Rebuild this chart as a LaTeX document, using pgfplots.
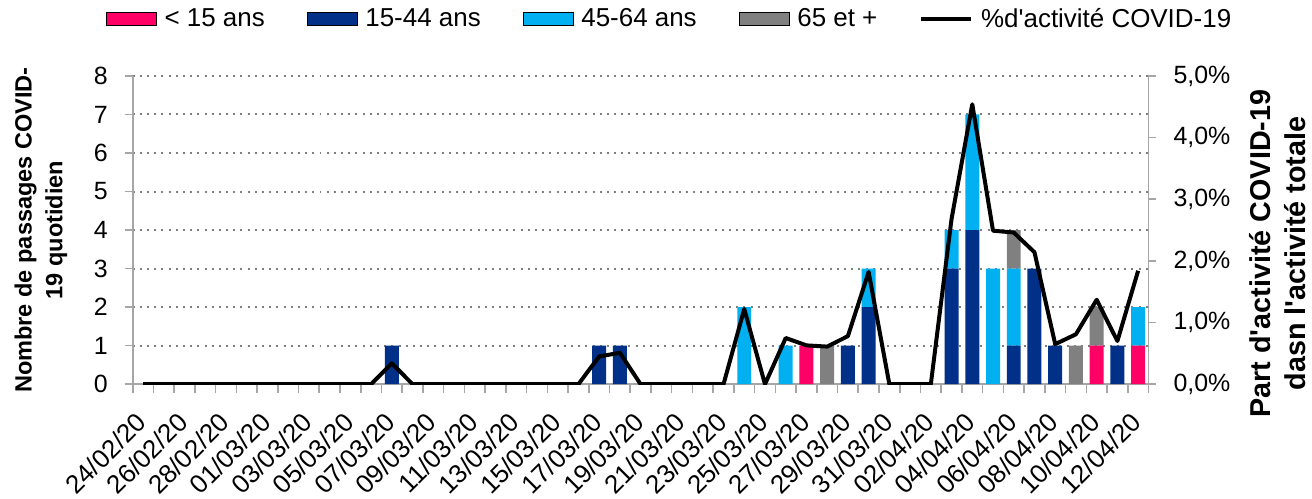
\documentclass[border=0pt]{standalone}
\usepackage{fontspec}
\setmainfont{Liberation Sans}
\usepackage{pgfplots}
\usepackage{pgfplotstable}
\pgfplotsset{compat=1.18}

\definecolor{pk}{HTML}{FF0066}
\definecolor{nv}{HTML}{003087}
\definecolor{cy}{HTML}{00B0F0}
\definecolor{gr}{HTML}{808080}
\definecolor{axg}{HTML}{A6A6A6}

% i = jour depuis le 24/02/20 ; passages par age ; pct = part d'activite (%)
\pgfplotstableread{
i pk nv cy gr pct
0 0 0 0 0 0
1 0 0 0 0 0
2 0 0 0 0 0
3 0 0 0 0 0
4 0 0 0 0 0
5 0 0 0 0 0
6 0 0 0 0 0
7 0 0 0 0 0
8 0 0 0 0 0
9 0 0 0 0 0
10 0 0 0 0 0
11 0 0 0 0 0
12 0 1 0 0 0.34
13 0 0 0 0 0
14 0 0 0 0 0
15 0 0 0 0 0
16 0 0 0 0 0
17 0 0 0 0 0
18 0 0 0 0 0
19 0 0 0 0 0
20 0 0 0 0 0
21 0 0 0 0 0
22 0 1 0 0 0.45
23 0 1 0 0 0.51
24 0 0 0 0 0
25 0 0 0 0 0
26 0 0 0 0 0
27 0 0 0 0 0
28 0 0 0 0 0
29 0 0 2 0 1.22
30 0 0 0 0 0
31 0 0 1 0 0.75
32 1 0 0 0 0.63
33 0 0 0 1 0.61
34 0 1 0 0 0.78
35 0 2 1 0 1.82
36 0 0 0 0 0
37 0 0 0 0 0
38 0 0 0 0 0
39 0 3 1 0 2.68
40 0 4 3 0 4.54
41 0 0 3 0 2.49
42 0 1 2 1 2.46
43 0 3 0 0 2.14
44 0 1 0 0 0.65
45 0 0 0 1 0.81
46 1 0 0 1 1.37
47 0 1 0 0 0.70
48 1 0 1 0 1.84
}\passages

\pgfplotsset{
  barleg/.style={legend image code/.code={\fill[##1] (0pt,-3.25pt) rectangle (25pt,3.25pt);}},
  lineleg/.style={legend image code/.code={\draw[##1] (0pt,0pt) -- (25pt,0pt);}},
}

\begin{document}
\begin{tikzpicture}
\begin{axis}[
  name=ax,
  scale only axis, width=509pt, height=154.5pt,
  xmin=-0.5, xmax=48.5, ymin=0, ymax=8,
  ybar stacked, bar width=7pt,
  axis x line*=bottom, axis y line*=left,
  axis line style={axg, line width=0.8pt},
  tick align=outside,
  xtick={0,2,...,48},
  xticklabels={24/02/20,26/02/20,28/02/20,01/03/20,03/03/20,05/03/20,07/03/20,09/03/20,11/03/20,13/03/20,15/03/20,17/03/20,19/03/20,21/03/20,23/03/20,25/03/20,27/03/20,29/03/20,31/03/20,02/04/20,04/04/20,06/04/20,08/04/20,10/04/20,12/04/20},
  major x tick style={draw=none},
  minor xtick={-0.5,0.5,...,48.5},
  minor tick length=4.5pt,
  minor x tick style={axg, line width=0.8pt},
  ytick={0,...,8},
  major tick length=4pt,
  y tick style={axg, line width=0.8pt},
  ymajorgrids,
  major grid style={gr, line width=1pt, dash pattern=on 1pt off 2.6pt},
  /pgf/number format/assume math mode=true,
  tick label style={font=\fontsize{12.5}{14}\selectfont},
  yticklabel style={xshift=-5pt},
  xticklabel style={yshift=-12pt, rotate=45, anchor=east, inner sep=1pt, font=\fontsize{13}{15}\selectfont},
]
\addplot[fill=pk, draw=none] table[x=i, y=pk]{\passages};
\addplot[fill=nv, draw=none] table[x=i, y=nv]{\passages};
\addplot[fill=cy, draw=none] table[x=i, y=cy]{\passages};
\addplot[fill=gr, draw=none] table[x=i, y=gr]{\passages};
\end{axis}

\begin{axis}[
  scale only axis, width=509pt, height=154.5pt,
  xmin=-0.5, xmax=48.5, ymin=0, ymax=5,
  axis x line=none, axis y line*=right,
  axis line style={axg, line width=0.8pt},
  tick align=outside, major tick length=4pt,
  ytick={0,...,5},
  yticklabels={{0,0\%},{1,0\%},{2,0\%},{3,0\%},{4,0\%},{5,0\%}},
  y tick style={axg, line width=0.8pt},
  tick label style={font=\fontsize{12.5}{14}\selectfont},
  yticklabel style={xshift=5pt},
  legend columns=5,
  legend style={at={(axis description cs:0.5295,1.1845)}, anchor=center,
    draw=none, fill=none, font=\fontsize{13}{15}\selectfont,
    /tikz/every odd column/.append style={column sep=2pt},
    /tikz/every even column/.append style={column sep=19pt}},
]
\addlegendimage{barleg, fill=pk}\addlegendentry{< 15 ans}
\addlegendimage{barleg, fill=nv}\addlegendentry{15-44 ans}
\addlegendimage{barleg, fill=cy}\addlegendentry{45-64 ans}
\addlegendimage{barleg, fill=gr}\addlegendentry{65 et +}
\addplot[lineleg, black, line width=2pt, line join=round, mark=none] table[x=i, y=pct]{\passages};
\addlegendentry{\%d\textquotesingle{}activité COVID-19}
\end{axis}

\node[rotate=90, align=center, font=\bfseries\fontsize{11.8}{15.5}\selectfont]
  at ([xshift=-46pt]ax.west) {Nombre de passages COVID-\\19 quotidien};
\node[rotate=90, align=center, font=\bfseries\fontsize{14.4}{17.5}\selectfont]
  at ([xshift=64.5pt, yshift=-11.75pt]ax.east) {Part d\textquotesingle{}activité COVID-19\\dasn l\textquotesingle{}activité totale};
\path ([xshift=-66.5pt, yshift=-54pt]ax.south west) rectangle ([xshift=589.5pt, yshift=191.5pt]ax.south west);
\end{tikzpicture}
\end{document}
